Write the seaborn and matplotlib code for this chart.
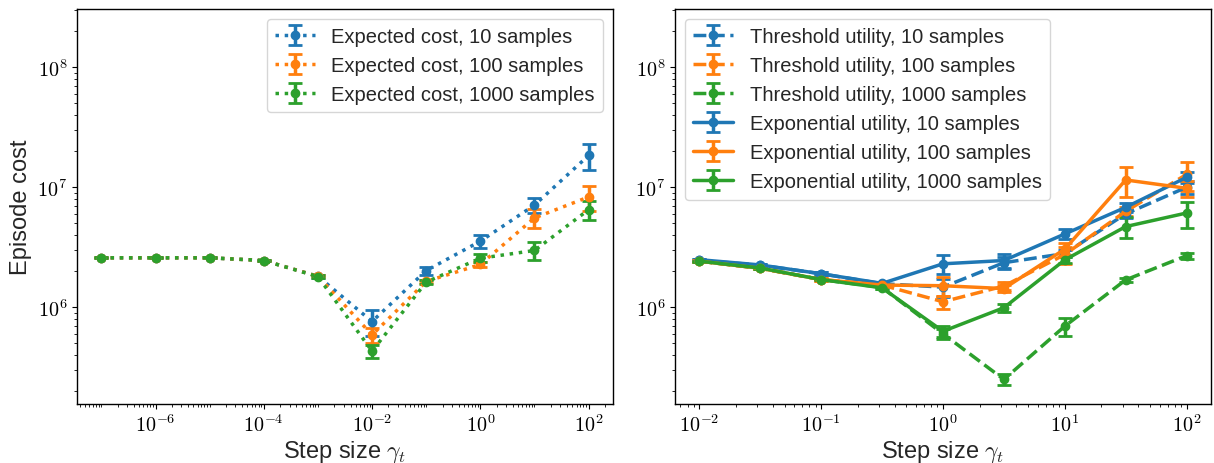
import numpy as np
import matplotlib
matplotlib.use("Agg")
import matplotlib.pyplot as plt
import seaborn as sns
from matplotlib.ticker import FuncFormatter, LogLocator, NullFormatter

# ---------------- data ----------------
x_left = [1e-7, 1e-6, 1e-5, 1e-4, 1e-3, 1e-2, 1e-1, 1.0, 10.0, 100.0]
ec10 = [2.58e6, 2.58e6, 2.58e6, 2.45e6, 1.81e6, 7.6e5, 2.02e6, 3.55e6, 7.1e6, 1.84e7]
ec10_err = [0.03e6, 0.03e6, 0.03e6, 0.04e6, 0.05e6, 1.8e5, 0.15e6, 0.45e6, 1.05e6, 4.5e6]
ec100 = [2.58e6, 2.58e6, 2.58e6, 2.45e6, 1.81e6, 5.87e5, 1.64e6, 2.27e6, 5.55e6, 8.3e6]
ec100_err = [0.02e6, 0.02e6, 0.02e6, 0.03e6, 0.04e6, 0.8e5, 0.06e6, 0.1e6, 1.0e6, 2.0e6]
ec1000 = [2.58e6, 2.58e6, 2.58e6, 2.45e6, 1.80e6, 4.3e5, 1.62e6, 2.56e6, 2.97e6, 6.5e6]
ec1000_err = [0.02e6, 0.02e6, 0.02e6, 0.03e6, 0.04e6, 0.5e5, 0.05e6, 0.2e6, 0.5e6, 1.2e6]

x_right = [0.01, 0.0316, 0.1, 0.316, 1.0, 3.16, 10.0, 31.6, 100.0]
thr10 = [2.46e6, 2.24e6, 1.9e6, 1.57e6, 1.47e6, 2.35e6, 2.8e6, 6.0e6, 1.0e7]
thr10_err = [0.05e6, 0.05e6, 0.05e6, 0.05e6, 0.25e6, 0.25e6, 0.2e6, 0.5e6, 1.2e6]
thr100 = [2.42e6, 2.11e6, 1.7e6, 1.53e6, 1.11e6, 1.5e6, 2.75e6, 6.3e6, 1.28e7]
thr100_err = [0.04e6, 0.04e6, 0.04e6, 0.04e6, 0.14e6, 0.12e6, 0.45e6, 0.5e6, 3.5e6]
thr1000 = [2.42e6, 2.11e6, 1.7e6, 1.46e6, 6.0e5, 2.5e5, 6.95e5, 1.69e6, 2.69e6]
thr1000_err = [0.03e6, 0.03e6, 0.03e6, 0.03e6, 0.6e5, 0.26e5, 1.2e5, 0.07e6, 0.15e6]
exp10 = [2.49e6, 2.25e6, 1.9e6, 1.58e6, 2.3e6, 2.45e6, 4.08e6, 6.8e6, 1.21e7]
exp10_err = [0.05e6, 0.05e6, 0.05e6, 0.05e6, 0.4e6, 0.32e6, 0.4e6, 0.6e6, 1.3e6]
exp100 = [2.42e6, 2.11e6, 1.7e6, 1.53e6, 1.51e6, 1.43e6, 3.05e6, 1.15e7, 9.8e6]
exp100_err = [0.04e6, 0.04e6, 0.04e6, 0.04e6, 0.28e6, 0.1e6, 0.35e6, 3.2e6, 1.5e6]
exp1000 = [2.42e6, 2.12e6, 1.70e6, 1.45e6, 6.3e5, 9.9e5, 2.48e6, 4.7e6, 6.1e6]
exp1000_err = [0.03e6, 0.03e6, 0.03e6, 0.03e6, 0.65e5, 0.08e6, 0.15e6, 0.9e6, 1.5e6]

left_labels = ["Expected cost, 10 samples", "Expected cost, 100 samples",
               "Expected cost, 1000 samples"]
right_labels = ["Threshold utility, 10 samples", "Threshold utility, 100 samples",
                "Threshold utility, 1000 samples", "Exponential utility, 10 samples",
                "Exponential utility, 100 samples", "Exponential utility, 1000 samples"]

# ---------------- style ----------------
sns.set_style("ticks")
plt.rcParams["font.family"] = ["Liberation Sans", "DejaVu Sans"]
plt.rcParams["mathtext.fontset"] = "cm"
plt.rcParams["xtick.direction"] = "out"
plt.rcParams["ytick.direction"] = "out"
plt.rcParams["axes.edgecolor"] = "black"
plt.rcParams["axes.linewidth"] = 1.0
plt.rcParams["xtick.color"] = "black"
plt.rcParams["ytick.color"] = "black"
colors = sns.color_palette("tab10", 3)

fig = plt.figure(figsize=(12.14, 4.64), dpi=100)
axL = fig.add_axes([77 / 1214, 59 / 464, 536 / 1214, 395 / 464])
axR = fig.add_axes([675 / 1214, 59 / 464, 536 / 1214, 395 / 464])

ekw = dict(marker="o", markersize=6, lw=2.5, capsize=5, capthick=2, elinewidth=2.5)

for c, y, e, lab in zip(colors, [ec10, ec100, ec1000], [ec10_err, ec100_err, ec1000_err], left_labels):
    axL.errorbar(x_left, y, yerr=e, color=c, ls=":", label=lab, **ekw)

series_r = [(thr10, thr10_err, "--"), (thr100, thr100_err, "--"), (thr1000, thr1000_err, "--"),
            (exp10, exp10_err, "-"), (exp100, exp100_err, "-"), (exp1000, exp1000_err, "-")]
for i, ((y, e, ls), lab) in enumerate(zip(series_r, right_labels)):
    axR.errorbar(x_right, y, yerr=e, color=colors[i % 3], ls=ls, label=lab, **ekw)

fmt = FuncFormatter(lambda v, p: r"$10^{%d}$" % int(round(np.log10(v))))
for ax in (axL, axR):
    ax.set_xscale("log")
    ax.set_yscale("log")
    ax.set_ylim(1.56e5, 3.06e8)
    ax.xaxis.set_major_formatter(fmt)
    ax.yaxis.set_major_formatter(fmt)
    ax.yaxis.set_minor_locator(LogLocator(base=10, subs=np.arange(2, 10), numticks=100))
    ax.yaxis.set_minor_formatter(NullFormatter())
    ax.xaxis.set_minor_formatter(NullFormatter())
    ax.tick_params(labelsize=14.5)
    ax.tick_params(which="major", length=3.5, width=0.8)
    ax.tick_params(which="minor", length=2, width=0.6)
    ax.set_xlabel(r"Step size $\gamma_t$", fontsize=17, labelpad=2)

axL.set_xlim(10 ** -7.45, 10 ** 2.45)
axR.set_xlim(10 ** -2.2, 10 ** 2.2)
axL.xaxis.set_major_locator(LogLocator(base=10, subs=[1.0], numticks=6))
axL.xaxis.set_minor_locator(LogLocator(base=10, subs=np.arange(1, 10), numticks=100))
axR.xaxis.set_major_locator(LogLocator(base=10, subs=[1.0], numticks=10))
axR.xaxis.set_minor_locator(LogLocator(base=10, subs=np.arange(2, 10), numticks=100))
axL.set_ylabel("Episode cost", fontsize=17)

axL.legend(loc="upper right", fontsize=14.5)
axR.legend(loc="upper left", fontsize=14.5)

fig.savefig("out.png", dpi=100)
